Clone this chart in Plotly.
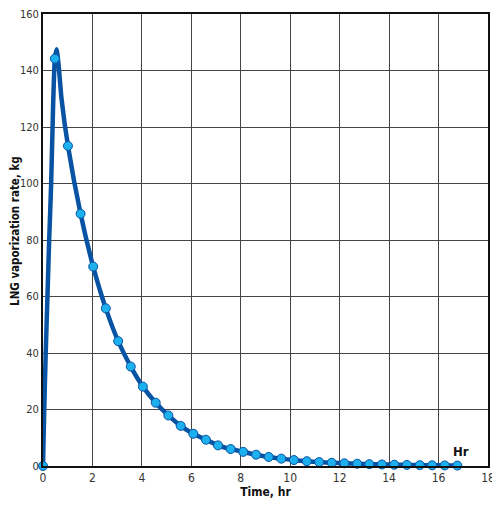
import plotly.graph_objects as go

# smooth curve (rising edge + peak + decay)
curve_t = [0, 0.05, 0.11, 0.18, 0.25, 0.33, 0.41, 0.48, 0.55, 0.63, 0.75, 1.01, 1.52, 2.03,
           2.54, 3.04, 3.55, 4.04, 4.56, 5.07, 5.57, 6.08, 6.59, 7.08, 7.59, 8.1, 8.62,
           9.13, 9.64, 10.15, 10.67, 11.17, 11.68, 12.19, 12.71, 13.2, 13.71, 14.21,
           14.72, 15.24, 15.74, 16.25, 16.76]
curve_rate = [0, 20, 40, 60, 80, 100, 128, 144.2, 147.5, 142, 130, 113.3, 89.3, 70.6,
              55.8, 44.2, 35.2, 28.1, 22.4, 17.9, 14.2, 11.4, 9.3, 7.3, 6.0, 5.0, 4.0,
              3.2, 2.6, 2.1, 1.7, 1.4, 1.15, 0.95, 0.8, 0.65, 0.55, 0.45, 0.38, 0.3,
              0.25, 0.2, 0.15]

# sampled points (markers)
time_hr = [0, 0.48, 1.01, 1.52, 2.03, 2.54, 3.04, 3.55, 4.04, 4.56, 5.07, 5.57, 6.08,
           6.59, 7.08, 7.59, 8.1, 8.62, 9.13, 9.64, 10.15, 10.67, 11.17, 11.68, 12.19,
           12.71, 13.2, 13.71, 14.21, 14.72, 15.24, 15.74, 16.25, 16.76]
rate_kg = [0, 144.2, 113.3, 89.3, 70.6, 55.8, 44.2, 35.2, 28.1, 22.4, 17.9, 14.2, 11.4,
           9.3, 7.3, 6.0, 5.0, 4.0, 3.2, 2.6, 2.1, 1.7, 1.4, 1.15, 0.95, 0.8, 0.65,
           0.55, 0.45, 0.38, 0.3, 0.25, 0.2, 0.15]

x_ticks = [0, 2, 4, 6, 8, 10, 12, 14, 16, 18]
y_ticks = [0, 20, 40, 60, 80, 100, 120, 140, 160]

font = "DejaVu Sans Condensed, Roboto, sans-serif"

fig = go.Figure()
fig.add_trace(go.Scatter(x=curve_t, y=curve_rate, mode="lines",
                         line=dict(color="#0853a3", width=4.5, shape="spline", smoothing=0.6),
                         cliponaxis=False, hoverinfo="skip"))
fig.add_trace(go.Scatter(x=time_hr, y=rate_kg, mode="markers",
                         marker=dict(size=9, color="#1cb0ee",
                                     line=dict(color="#0853a3", width=1)),
                         cliponaxis=False))

fig.add_annotation(x=16.9, y=1.9, text="<b>Hr</b>", showarrow=False,
                   yanchor="bottom", font=dict(family=font, size=13, color="#111"))

# y-axis title as an annotation so it sits left of the tick labels
fig.add_annotation(xref="paper", yref="paper", x=0, y=0.52, xshift=-28,
                   text="<b>LNG vaporization rate, kg</b>", textangle=-90,
                   showarrow=False, xanchor="center", yanchor="middle",
                   font=dict(family=font, size=11.5, color="#111"))

# page body has an 8px margin, so the figure is shrunk by that amount
fig.update_layout(
    width=492, height=497,
    margin=dict(l=35, r=12, t=6, b=39),
    paper_bgcolor="white", plot_bgcolor="white",
    showlegend=False,
    font=dict(family=font, size=11.5, color="#333"),
)
fig.update_xaxes(range=[0, 18], tickvals=x_ticks, showgrid=True, gridcolor="#444",
                 gridwidth=1.3, showline=True, linecolor="#111", linewidth=1.8,
                 mirror=True, zeroline=False, ticks="", automargin=False,
                 ticklabeloverflow="allow", tickfont=dict(size=12),
                 title=dict(text="<b>Time, hr</b>", standoff=0,
                            font=dict(family=font, size=12, color="#111")))
fig.update_yaxes(range=[0, 160], tickvals=y_ticks, showgrid=True, gridcolor="#444",
                 gridwidth=1.3, showline=True, linecolor="#111", linewidth=1.8,
                 mirror=True, zeroline=False, ticks="", automargin=False,
                 ticklabeloverflow="allow", tickfont=dict(size=11))

fig.write_html("out.html")
